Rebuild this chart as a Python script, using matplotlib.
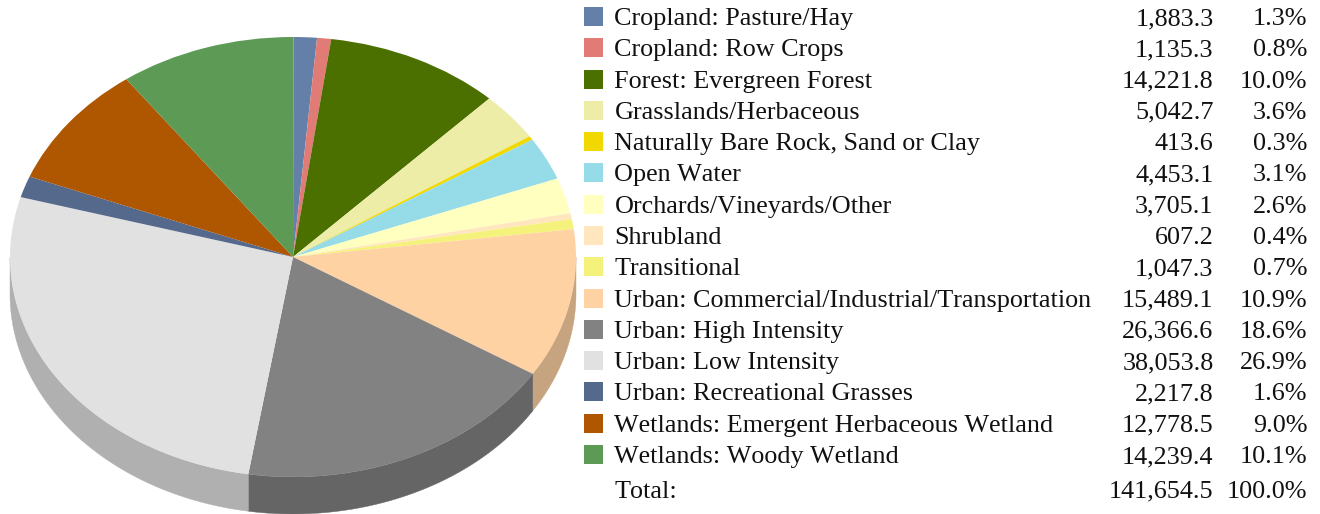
import numpy as np
import matplotlib
matplotlib.use("Agg")
import matplotlib.pyplot as plt
from matplotlib.colors import to_rgb
from matplotlib.patches import Rectangle

categories = ["Cropland: Pasture/Hay", "Cropland: Row Crops", "Forest: Evergreen Forest",
              "Grasslands/Herbaceous", "Naturally Bare Rock, Sand or Clay", "Open Water",
              "Orchards/Vineyards/Other", "Shrubland", "Transitional",
              "Urban: Commercial/Industrial/Transportation", "Urban: High Intensity",
              "Urban: Low Intensity", "Urban: Recreational Grasses",
              "Wetlands: Emergent Herbaceous Wetland", "Wetlands: Woody Wetland"]
values = [1883.3, 1135.3, 14221.8, 5042.7, 413.6, 4453.1, 3705.1, 607.2, 1047.3,
          15489.1, 26366.6, 38053.8, 2217.8, 12778.5, 14239.4]
percents = ["1.3%", "0.8%", "10.0%", "3.6%", "0.3%", "3.1%", "2.6%", "0.4%", "0.7%",
            "10.9%", "18.6%", "26.9%", "1.6%", "9.0%", "10.1%"]
colors = ["#6580A8", "#E07B75", "#4C7000", "#EEEDA8", "#F0D800", "#96DCE8", "#FFFFC0",
          "#FFE6BE", "#F5F27C", "#FFD2A4", "#828282", "#E1E1E1", "#54698C", "#AE5600", "#5C9A56"]
total_label = "141,654.5"
total_pct = "100.0%"

W, H = 1320, 514
cx, cy, rx, ry, depth = 293.0, 257.0, 283.0, 220.0, 37.0
start = 89.9
plt.rcParams['font.family'] = ['Liberation Serif', 'DejaVu Serif']
plt.rcParams['text.kerning_factor'] = 6
fig = plt.figure(figsize=(W/100, H/100), dpi=100)

ax = fig.add_axes([0, 0, 1, 1])
ax.pie(values, colors=colors, startangle=start, counterclock=False, radius=1.0,
       center=(0, 0), wedgeprops=dict(linewidth=0.3, edgecolor='none', zorder=3))
ax.set_aspect('auto')
ax.set_xlim(-cx/rx, (W-cx)/rx)
ax.set_ylim((cy-H)/ry, cy/ry)
ax.axis('off')

frac = np.cumsum([0] + values) / np.sum(values)
d = depth / ry
for i, col in enumerate(colors):
    a0 = np.deg2rad(start) - 2*np.pi*frac[i]
    a1 = np.deg2rad(start) - 2*np.pi*frac[i+1]
    t = np.linspace(a0, a1, 200)
    mask = np.sin(t) <= 0
    if not mask.any():
        continue
    t = t[mask]
    xs = np.cos(t)
    ys = np.sin(t)
    rim = tuple(0.78*c for c in to_rgb(col))
    ax.fill(np.r_[xs, xs[::-1]], np.r_[ys, ys[::-1]-d], color=rim, lw=0.3, zorder=1)

lx = fig.add_axes([0, 0, 1, 1])
lx.set_xlim(0, W)
lx.set_ylim(H, 0)
lx.axis('off')
fs = 18.85
y0, step = 16.5, 31.29
tc = '#111111'
for i, (name, v, p, col) in enumerate(zip(categories, values, percents, colors)):
    y = y0 + i*step
    lx.add_patch(Rectangle((584, y-9.5), 19, 19, facecolor=col, edgecolor='none'))
    lx.text(614.5, y, name, fontsize=fs, va='center_baseline', ha='left', color=tc)
    lx.text(1213.5, y, f"{v:,.1f}", fontsize=fs, va='center_baseline', ha='right', color=tc)
    lx.text(1307.5, y, p, fontsize=fs, va='center_baseline', ha='right', color=tc)
lx.text(614.5, 489, "Total:", fontsize=fs, va='center_baseline', ha='left', color=tc)
lx.text(1213.5, 489, total_label, fontsize=fs, va='center_baseline', ha='right', color=tc)
lx.text(1307.5, 489, total_pct, fontsize=fs, va='center_baseline', ha='right', color=tc)

fig.savefig("out.png", dpi=100)
